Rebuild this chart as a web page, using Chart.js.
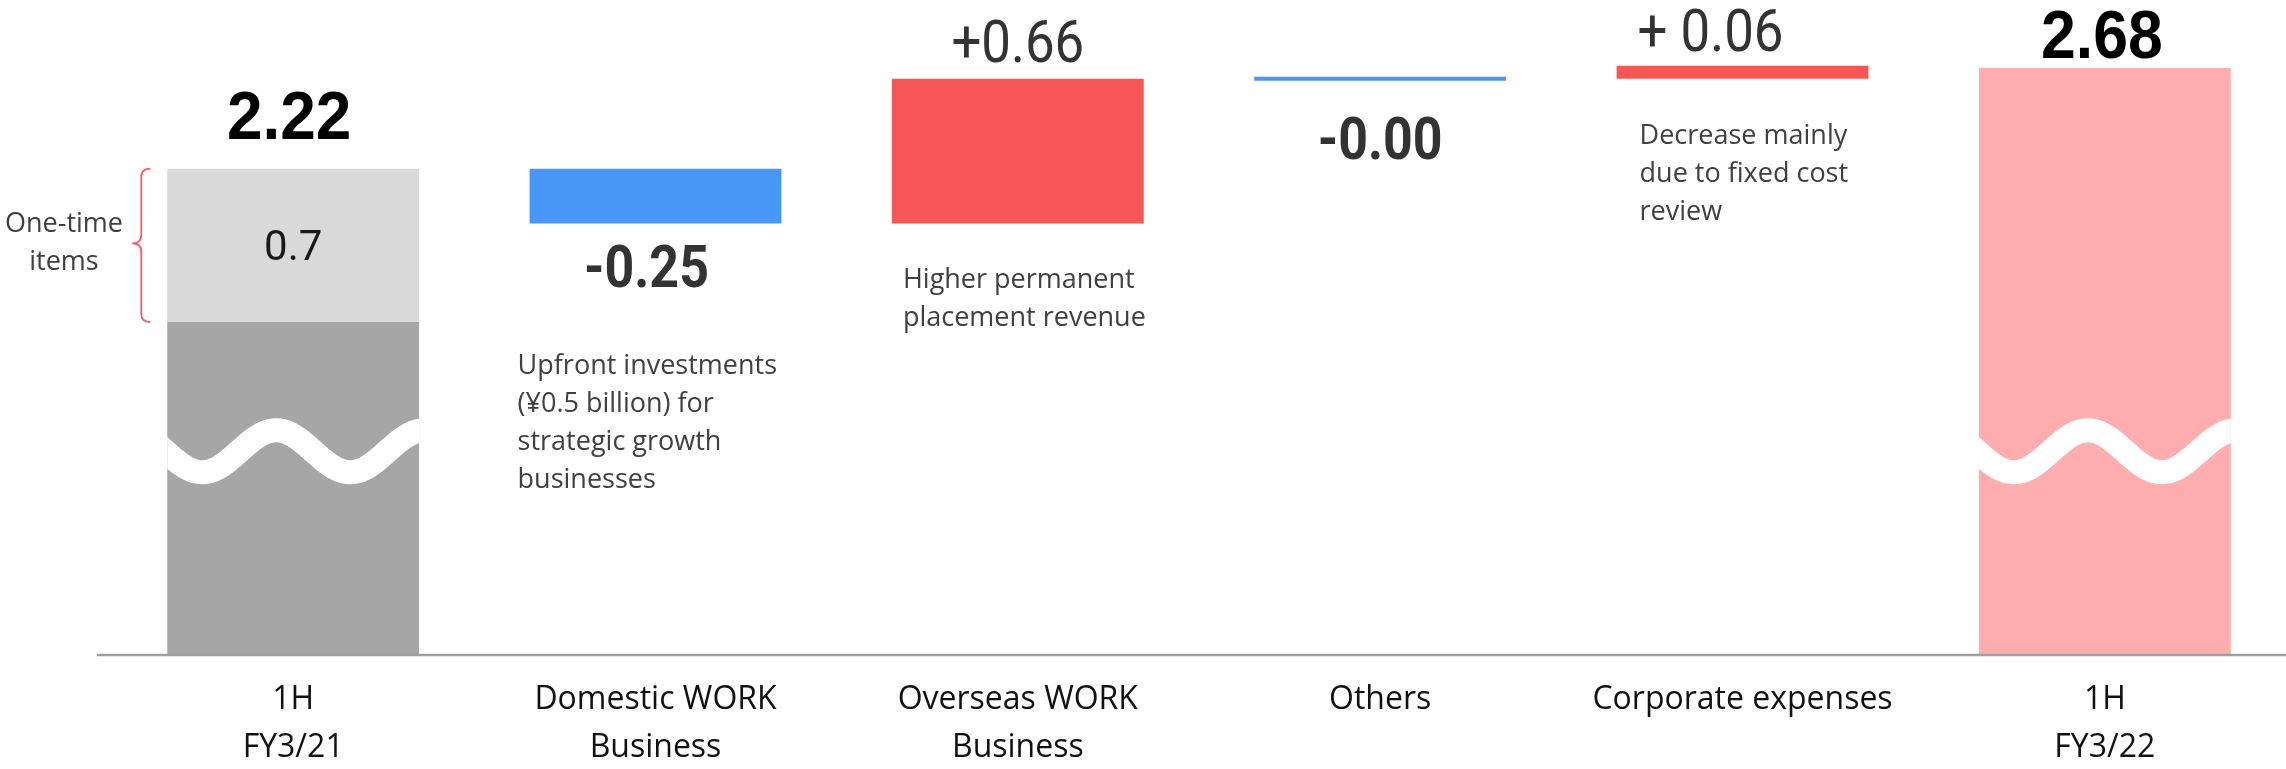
<!DOCTYPE html>
<html>
<head>
<meta charset="utf-8">
<script src="https://cdn.jsdelivr.net/npm/chart.js@4.4.1/dist/chart.umd.min.js"></script>
<style>
  html, body { margin: 0; padding: 0; background: #fff; }
</style>
</head>
<body>
<canvas id="bridge" width="2286" height="769"></canvas>
<script>
// operating profit bridge, 1H FY3/21 -> 1H FY3/22 (billion yen)
const categories = [
    ['1H', 'FY3/21'],
    ['Domestic WORK', 'Business'],
    ['Overseas WORK', 'Business'],
    'Others',
    'Corporate expenses',
    ['1H', 'FY3/22']
];
const startTotal = 2.22;
const oneTimeItems = 0.7;
const deltas = [-0.25, 0.66, -0.00, 0.06];
const endTotal = 2.68;

const totalLabels = ['2.22', '2.68'];
const oneTimeText = '0.7';
const deltaLabels = ['-0.25', '+0.66', '-0.00', '+ 0.06'];
const notes = [
    ['Upfront investments', '(¥0.5 billion) for', 'strategic growth', 'businesses'],
    ['Higher permanent', 'placement revenue'],
    [],
    ['Decrease mainly', 'due to fixed cost', 'review']
];
const oneTimeLabel = ['One-time', 'items'];

// floating ranges for the waterfall
let running = startTotal;
const mainRanges = [[0, startTotal - oneTimeItems]];
deltas.forEach(d => {
    mainRanges.push([running, running + d]);
    running += d;
});
mainRanges.push([0, endTotal]);
const oneTimeRanges = [[startTotal - oneTimeItems, startTotal], null, null, null, null, null];

const GRAY = '#a6a6a6';
const LIGHT_GRAY = '#d9d9d9';
const BLUE = '#4896f8';
const RED = '#f65656';
const PINK = '#ffadae';
const isDown = d => d < 0 || Object.is(d, -0);
const mainColors = [GRAY];
deltas.forEach(d => mainColors.push(isDown(d) ? BLUE : RED));
mainColors.push(PINK);

function drawText(ctx, text, x, y, font, color, align, sx) {
    ctx.save();
    ctx.font = font;
    ctx.fillStyle = color;
    ctx.textAlign = align || 'center';
    ctx.textBaseline = 'alphabetic';
    ctx.translate(x, y);
    ctx.scale(sx || 1, 1);
    ctx.fillText(text, 0, 0);
    ctx.restore();
}

function barBox(el) {
    return {
        left: el.x - el.width / 2,
        right: el.x + el.width / 2,
        top: Math.min(el.y, el.base),
        bottom: Math.max(el.y, el.base),
        cx: el.x
    };
}

function drawWave(ctx, box, cy) {
    ctx.save();
    ctx.beginPath();
    ctx.rect(box.left, box.top, box.right - box.left, box.bottom - box.top);
    ctx.clip();
    ctx.beginPath();
    const w = box.right - box.left;
    for (let t = -20; t <= w + 20; t += 2) {
        const y = cy + 21 * Math.cos(2 * Math.PI * (t - 35) / 148);
        if (t === -20) ctx.moveTo(box.left + t, y); else ctx.lineTo(box.left + t, y);
    }
    ctx.strokeStyle = '#fff';
    ctx.lineWidth = 24;
    ctx.stroke();
    ctx.restore();
}

const bridgeLabels = {
    id: 'bridgeLabels',
    afterDatasetsDraw(chart) {
        const ctx = chart.ctx;
        const area = chart.chartArea;
        const yScale = chart.scales.y;
        const mainMeta = chart.getDatasetMeta(0);
        const oneMeta = chart.getDatasetMeta(1);

        // axis line
        ctx.save();
        ctx.strokeStyle = '#a0a0a0';
        ctx.lineWidth = 2.5;
        ctx.beginPath();
        ctx.moveTo(97, area.bottom);
        ctx.lineTo(chart.width, area.bottom);
        ctx.stroke();
        ctx.restore();

        // broken-axis waves on the total bars
        const waveY = yScale.getPixelForValue(0.93);
        drawWave(ctx, barBox(mainMeta.data[0]), waveY);
        drawWave(ctx, barBox(mainMeta.data[categories.length - 1]), waveY);

        // "Others" is ~0, drawn as a thin line
        const others = barBox(mainMeta.data[3]);
        ctx.save();
        ctx.strokeStyle = BLUE;
        ctx.lineWidth = 4;
        ctx.beginPath();
        ctx.moveTo(others.left, others.top);
        ctx.lineTo(others.right, others.top);
        ctx.stroke();
        ctx.restore();

        // totals
        const first = barBox(oneMeta.data[0]);
        const last = barBox(mainMeta.data[categories.length - 1]);
        drawText(ctx, totalLabels[0], first.cx - 4, first.top - 30, 'bold 68px "Liberation Sans", Arial', '#000', 'center', 0.94);
        drawText(ctx, totalLabels[1], last.cx - 3, last.top - 10, 'bold 68px "Liberation Sans", Arial', '#000', 'center', 0.92);

        // one-time segment
        const midSeg = (first.top + first.bottom) / 2;
        drawText(ctx, oneTimeText, first.cx, midSeg + 15, '42px Roboto', '#1a1a1a', 'center', 1);
        drawText(ctx, oneTimeLabel[0], 64, midSeg - 13, '27px "Open Sans"', '#404040', 'center', 1);
        drawText(ctx, oneTimeLabel[1], 64, midSeg + 25, '27px "Open Sans"', '#404040', 'center', 1);

        // brace
        const bx = first.left - 26, top = first.top, bot = first.bottom;
        ctx.save();
        ctx.strokeStyle = '#ff5a5a';
        ctx.lineWidth = 1.8;
        ctx.beginPath();
        ctx.moveTo(bx + 9, top);
        ctx.quadraticCurveTo(bx, top, bx, top + 8);
        ctx.lineTo(bx, midSeg - 10);
        ctx.quadraticCurveTo(bx, midSeg - 2, bx - 9, midSeg - 2);
        ctx.quadraticCurveTo(bx, midSeg - 2, bx, midSeg + 6);
        ctx.lineTo(bx, bot - 8);
        ctx.quadraticCurveTo(bx, bot, bx + 9, bot);
        ctx.stroke();
        ctx.restore();

        // change labels and notes
        const labelOffset = [64, -17, 80, -15];
        const labelShift = [-9, 0, 0, -32];
        const noteIndent = [-12, 11, 0, 23];
        const noteStart = [151, 65, 0, 65];
        deltas.forEach((d, i) => {
            const b = barBox(mainMeta.data[i + 1]);
            const ly = labelOffset[i] > 0 ? b.bottom + labelOffset[i] : b.top + labelOffset[i];
            const font = isDown(d) ? 'bold 59px Roboto' : '60px Roboto';
            drawText(ctx, deltaLabels[i], b.cx + labelShift[i], ly, font, '#333', 'center', 0.88);
            notes[i].forEach((line, k) => {
                drawText(ctx, line, b.left + noteIndent[i], b.bottom + noteStart[i] + k * 38, '27px "Open Sans"', '#404040', 'left', 1);
            });
        });
    }
};

new Chart(document.getElementById('bridge').getContext('2d'), {
    type: 'bar',
    data: {
        labels: categories,
        datasets: [{
            label: 'Operating profit',
            data: mainRanges,
            backgroundColor: mainColors,
            barPercentage: 0.695,
            categoryPercentage: 1.0
        }, {
            label: 'One-time items',
            data: oneTimeRanges,
            backgroundColor: LIGHT_GRAY,
            barPercentage: 0.695,
            categoryPercentage: 1.0
        }]
    },
    options: {
        responsive: false,
        animation: false,
        layout: { padding: { left: 112, right: 0, top: 0, bottom: -24 } },
        plugins: {
            legend: { display: false },
            tooltip: { enabled: false }
        },
        scales: {
            x: {
                stacked: true,
                grid: { display: false, drawTicks: false },
                border: { display: false },
                ticks: {
                    padding: 21,
                    color: '#111',
                    font: { family: '"Open Sans"', size: 32, lineHeight: 1.5 },
                    maxRotation: 0,
                    autoSkip: false
                }
            },
            y: {
                display: false,
                min: 0,
                max: 2.99
            }
        }
    },
    plugins: [bridgeLabels]
});
</script>
</body>
</html>
